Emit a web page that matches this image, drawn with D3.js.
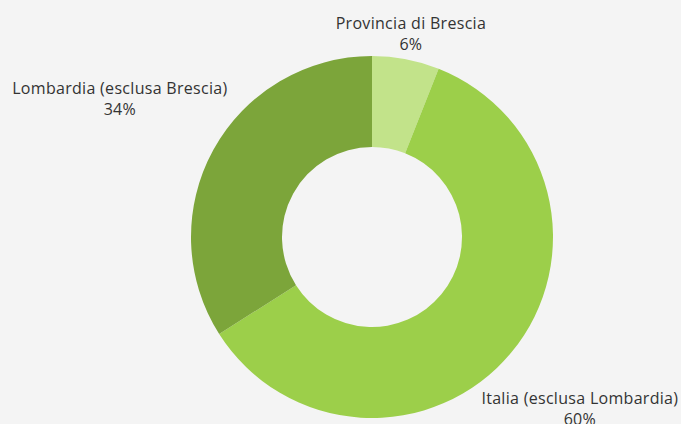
<!DOCTYPE html>
<html>
<head>
<meta charset="utf-8">
<script src="https://cdn.jsdelivr.net/npm/d3@7"></script>
<style>
  html, body { margin: 0; padding: 0; background: #f4f4f4; }
  .label { font-family: 'Open Sans', sans-serif; font-size: 16px; letter-spacing: 0.3px; fill: #333; }
</style>
</head>
<body>
<div class="chart"></div>
<script>
// regions and their share of the total
const categories = ['Provincia di Brescia', 'Italia (esclusa Lombardia)', 'Lombardia (esclusa Brescia)']
const values = [6, 60, 34]
const colors = ['#c2e38a', '#9ccf4a', '#7ca53a']

const width = 681
const height = 424
const cx = 372
const cy = 237
const outerR = 181
const innerR = 90

const data = categories.map((c, i) => ({name: c, value: values[i], color: colors[i]}))

const svg = d3
  .select('.chart')
  .append('svg')
  .attr('width', width)
  .attr('height', height)

const g = svg.append('g').attr('transform', 'translate(' + cx + ',' + cy + ')')

const pie = d3
  .pie()
  .sort(null)
  .value(d => d.value)

const arc = d3
  .arc()
  .innerRadius(innerR)
  .outerRadius(outerR)

const arcs = pie(data)

g.selectAll('path')
  .data(arcs)
  .enter()
  .append('path')
  .attr('d', arc)
  .attr('fill', d => d.data.color)

//labels sit along the slice's mid angle, pushed out until the nearest corner clears the ring
const labels = g
  .selectAll('text')
  .data(arcs)
  .enter()
  .append('text')
  .attr('class', 'label')
  .attr('text-anchor', 'middle')

labels
  .append('tspan')
  .attr('x', 0)
  .attr('dy', 0)
  .text(d => d.data.name)
labels
  .append('tspan')
  .attr('x', 0)
  .attr('dy', 21)
  .text(d => d.data.value + '%')

labels.each(function(d) {
  const bb = this.getBBox()
  const a = (d.startAngle + d.endAngle) / 2
  const sx = Math.sin(a)
  const sy = -Math.cos(a)
  const nearest = r => {
    const px = r * sx
    const py = r * sy
    const x0 = px - bb.width / 2
    const x1 = px + bb.width / 2
    const y0 = py - bb.height / 2
    const y1 = py + bb.height / 2
    const nx = Math.abs(x0) < Math.abs(x1) ? x0 : x1
    const ny = Math.abs(y0) < Math.abs(y1) ? y0 : y1
    return Math.sqrt(nx * nx + ny * ny)
  }
  let lo = outerR
  let hi = outerR + 400
  for (let k = 0; k < 40; k++) {
    const mid = (lo + hi) / 2
    if (nearest(mid) < outerR + 5) lo = mid
    else hi = mid
  }
  const px = lo * sx
  const py = lo * sy
  // shift so the box centre lands on (px, py)
  const dx = px - (bb.x + bb.width / 2)
  const dy = py - (bb.y + bb.height / 2)
  d3.select(this).attr('transform', 'translate(' + dx + ',' + dy + ')')
})
</script>
</body>
</html>
